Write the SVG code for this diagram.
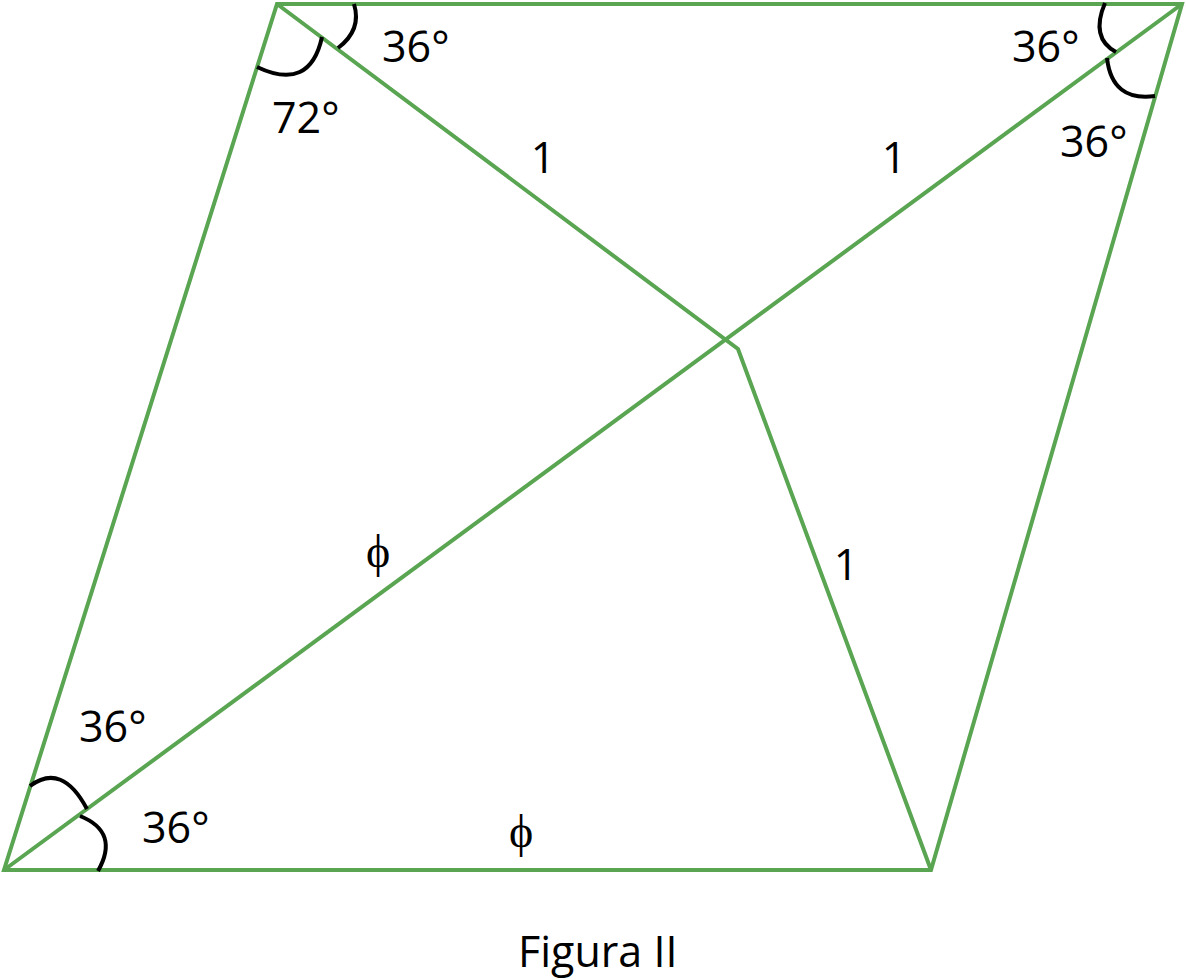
<svg xmlns="http://www.w3.org/2000/svg" width="1186" height="980" viewBox="0 0 1186 980">
<style>
.edge{fill:none;stroke:#5aa552;stroke-width:4;stroke-linejoin:miter}
.arc{fill:none;stroke:#000;stroke-width:4;stroke-linecap:butt}
.lbl{font-family:"Open Sans","Noto Sans",sans-serif;font-size:43px;fill:#000}
.phi{font-family:"Liberation Serif",serif;font-size:46px;fill:#000;text-anchor:middle}
</style>
<rect width="1186" height="980" fill="#fff"/>
<g id="connectors">
<polygon class="edge" points="277,4 1182,4 931,870 4,870"/>
<line class="edge" x1="4" y1="870" x2="1182" y2="4"/>
<polyline class="edge" points="277,4 738,349 931,870"/>
</g>
<g id="angle-marks">
<path class="arc" d="M257,67 Q310,92 322,37"/>
<path class="arc" d="M338,48 Q362,30 354,4"/>
<path class="arc" d="M1105,3 Q1090,38 1116,52"/>
<path class="arc" d="M1107,58 Q1112,102 1155,96"/>
<path class="arc" d="M30,786 Q62,762 87,809"/>
<path class="arc" d="M80,816 Q120,832 98,871"/>
</g>
<g id="labels">
<text class="lbl" x="382" y="62">36°</text>
<text class="lbl" x="272" y="133">72°</text>
<text class="lbl" x="1012" y="62">36°</text>
<text class="lbl" x="1060" y="157">36°</text>
<text class="lbl" x="79" y="742">36°</text>
<text class="lbl" x="142" y="843">36°</text>
<text class="lbl" x="543" y="173" text-anchor="middle">1</text>
<text class="lbl" x="894" y="173" text-anchor="middle">1</text>
<text class="lbl" x="846" y="580" text-anchor="middle">1</text>
<text class="phi" x="378" y="567">ϕ</text>
<text class="phi" x="521" y="847">ϕ</text>
<text class="lbl" x="518" y="967">Figura II</text>
</g>
</svg>
